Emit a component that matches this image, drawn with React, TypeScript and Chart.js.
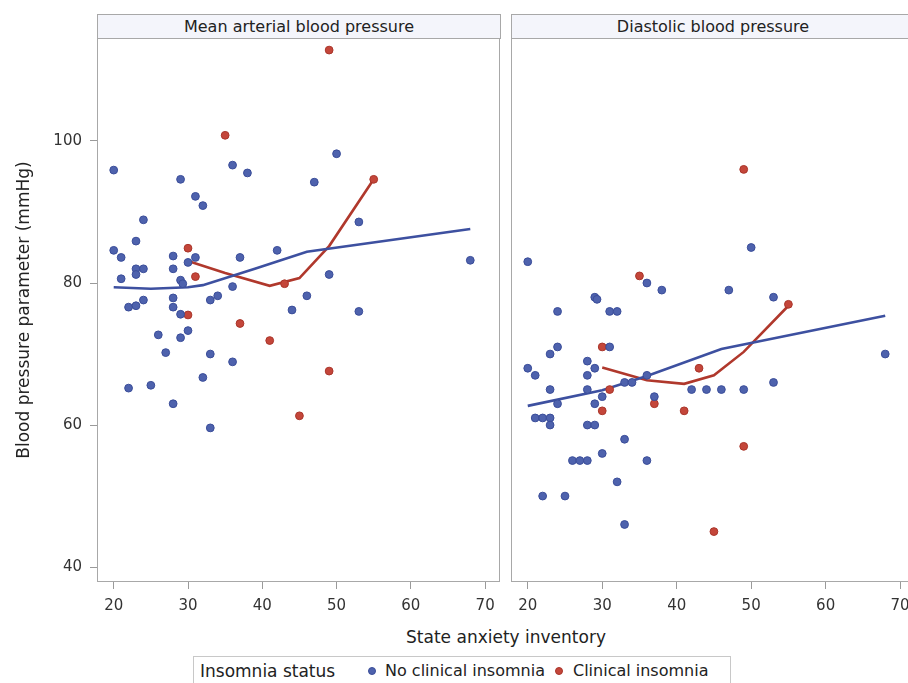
import React, { useEffect, useRef } from "react";
import { Chart, registerables } from "chart.js";

Chart.register(...registerables);

// ---- axis ticks / ranges ----
const xTicks = [20, 30, 40, 50, 60, 70];
const yTicks = [40, 60, 80, 100];
const X_MIN = 17.75;
const X_MAX = 72.0;
const Y_MIN = 37.9;
const Y_MAX = 114.5;

const panelTitles = ["Mean arterial blood pressure", "Diastolic blood pressure"];
const seriesNames = ["No clinical insomnia", "Clinical insomnia"];

// ---- Mean arterial blood pressure: no clinical insomnia ----
const mapNoX = [20, 29, 36, 38, 47, 50, 31, 32, 24, 53, 23, 20, 21, 28, 31, 30, 37, 42, 68, 23, 24, 23, 28, 21, 29, 29.3, 36, 49, 46, 34, 33, 24, 22, 23, 28, 28, 44, 53, 29, 26, 30, 29, 27, 33, 36, 32, 22, 25, 28, 33];
const mapNoY = [95.9, 94.6, 96.6, 95.5, 94.2, 98.2, 92.2, 90.9, 88.9, 88.6, 85.9, 84.6, 83.6, 83.8, 83.6, 82.9, 83.6, 84.6, 83.2, 82.0, 82.0, 81.2, 82.0, 80.6, 80.4, 79.9, 79.5, 81.2, 78.2, 78.2, 77.6, 77.6, 76.6, 76.8, 77.9, 76.6, 76.2, 76.0, 75.6, 72.7, 73.3, 72.3, 70.2, 70.0, 68.9, 66.7, 65.2, 65.6, 63.0, 59.6];

// ---- Mean arterial blood pressure: clinical insomnia ----
const mapInsX = [49, 35, 55, 30, 31, 43, 30, 37, 41, 49, 45];
const mapInsY = [112.8, 100.8, 94.6, 84.9, 80.9, 79.9, 75.5, 74.3, 71.9, 67.6, 61.3];

// ---- Diastolic blood pressure: no clinical insomnia ----
const dbpNoX = [50, 20, 36, 38, 47, 29, 29.3, 53, 24, 31, 32, 68, 31, 24, 23, 28, 20, 29, 21, 28, 36, 33, 34, 53, 23, 28, 42, 44, 46, 49, 30, 37, 24, 29, 21, 22, 23, 23, 28, 29, 33, 30, 26, 27, 28, 36, 32, 22, 25, 33];
const dbpNoY = [85, 83, 80, 79, 79, 78, 77.7, 78, 76, 76, 76, 70, 71, 71, 70, 69, 68, 68, 67, 67, 67, 66, 66, 66, 65, 65, 65, 65, 65, 65, 64, 64, 63, 63, 61, 61, 61, 60, 60, 60, 58, 56, 55, 55, 55, 55, 52, 50, 50, 46];

// ---- Diastolic blood pressure: clinical insomnia ----
const dbpInsX = [49, 35, 30, 43, 31, 37, 30, 41, 49, 45, 55];
const dbpInsY = [96, 81, 71, 68, 65, 63, 62, 62, 57, 45, 77];

// ---- smoothed fit lines ----
const mapNoLineX = [20, 25, 30, 32, 39, 46, 68];
const mapNoLineY = [79.4, 79.2, 79.4, 79.7, 82.0, 84.4, 87.6];
const mapInsLineX = [30, 35, 41, 45, 49, 55];
const mapInsLineY = [83.1, 81.4, 79.6, 80.7, 85.2, 94.6];
const dbpNoLineX = [20, 30, 36, 46, 68];
const dbpNoLineY = [62.7, 64.9, 66.9, 70.7, 75.4];
const dbpInsLineX = [30, 36, 41, 45, 49, 55];
const dbpInsLineY = [68.1, 66.3, 65.8, 67.0, 70.3, 76.8];

const BLUE_FILL = "#4e62ad";
const BLUE_EDGE = "#3a4d99";
const BLUE_LINE = "#3d50a0";
const RED_FILL = "#c4463a";
const RED_EDGE = "#a9352a";
const RED_LINE = "#b0382c";
const FRAME = "#a8a8a8";
const FONT = "'DejaVu Sans', sans-serif";

function pts(xs: number[], ys: number[]) {
  return xs.map((x, i) => ({ x, y: ys[i] }));
}

const framePlugin = {
  id: "frame",
  beforeDatasetsDraw(chart: any) {
    const a = chart.chartArea;
    const ctx = chart.ctx;
    ctx.save();
    ctx.strokeStyle = FRAME;
    ctx.lineWidth = 1;
    ctx.strokeRect(Math.round(a.left) + 0.5, Math.round(a.top) + 0.5, Math.round(a.right - a.left) - 1, Math.round(a.bottom - a.top) - 1);
    ctx.restore();
  },
};

function makeChart(
  canvas: HTMLCanvasElement,
  showY: boolean,
  padding: { left: number; right: number; top: number; bottom: number },
  noX: number[], noY: number[], insX: number[], insY: number[],
  noLX: number[], noLY: number[], insLX: number[], insLY: number[]
) {
  const tickFont = { family: FONT, size: 15 };
  return new Chart(canvas, {
    type: "scatter",
    data: {
      datasets: [
        {
          label: seriesNames[0],
          data: pts(noX, noY),
          backgroundColor: BLUE_FILL,
          borderColor: BLUE_EDGE,
          pointRadius: 3.9,
          borderWidth: 1,
        },
        {
          label: seriesNames[1],
          data: pts(insX, insY),
          backgroundColor: RED_FILL,
          borderColor: RED_EDGE,
          pointRadius: 3.9,
          borderWidth: 1,
        },
        {
          label: seriesNames[0] + " fit",
          data: pts(noLX, noLY),
          showLine: true,
          borderColor: BLUE_LINE,
          borderWidth: 2.6,
          pointRadius: 0,
          tension: 0,
        },
        {
          label: seriesNames[1] + " fit",
          data: pts(insLX, insLY),
          showLine: true,
          borderColor: RED_LINE,
          borderWidth: 2.6,
          pointRadius: 0,
          tension: 0,
        },
      ],
    },
    options: {
      animation: false,
      responsive: false,
      events: [],
      layout: { padding },
      plugins: {
        legend: { display: false },
        tooltip: { enabled: false },
        title: { display: false },
      },
      scales: {
        x: {
          type: "linear",
          min: X_MIN,
          max: X_MAX,
          afterBuildTicks: (s: any) => {
            s.ticks = xTicks.map((v) => ({ value: v }));
          },
          afterFit: (s: any) => {
            s.height = 43;
          },
          grid: {
            display: true,
            drawOnChartArea: false,
            drawTicks: true,
            tickLength: 7,
            color: "#9a9a9a",
            tickColor: "#9a9a9a",
          },
          border: { display: false },
          ticks: { font: tickFont, color: "#333", padding: 8, maxRotation: 0, autoSkip: false },
          title: { display: false },
        },
        y: {
          type: "linear",
          display: showY,
          min: Y_MIN,
          max: Y_MAX,
          afterBuildTicks: (s: any) => {
            s.ticks = yTicks.map((v) => ({ value: v }));
          },
          afterFit: (s: any) => {
            if (showY) s.width = 97;
          },
          grid: {
            display: true,
            drawOnChartArea: false,
            drawTicks: true,
            tickLength: 7,
            color: "#9a9a9a",
            tickColor: "#9a9a9a",
          },
          border: { display: false },
          ticks: { font: tickFont, color: "#333", padding: 8, autoSkip: false },
          title: { display: false },
        },
      },
    },
    plugins: [framePlugin],
  } as any);
}

const headerStyle = (left: number): React.CSSProperties => ({
  position: "absolute",
  left,
  top: 14,
  width: 404,
  height: 25,
  boxSizing: "border-box",
  border: `1px solid ${FRAME}`,
  background: "#f4f5fb",
  fontFamily: FONT,
  fontSize: 16,
  lineHeight: "23px",
  textAlign: "center",
  color: "#222",
  whiteSpace: "nowrap",
});

export default function App() {
  const leftRef = useRef<HTMLCanvasElement>(null);
  const rightRef = useRef<HTMLCanvasElement>(null);

  useEffect(() => {
    const c1 = makeChart(
      leftRef.current!, true, { left: 0, right: 4, top: 38, bottom: 0 },
      mapNoX, mapNoY, mapInsX, mapInsY, mapNoLineX, mapNoLineY, mapInsLineX, mapInsLineY
    );
    const c2 = makeChart(
      rightRef.current!, false, { left: 6, right: 10, top: 38, bottom: 0 },
      dbpNoX, dbpNoY, dbpInsX, dbpInsY, dbpNoLineX, dbpNoLineY, dbpInsLineX, dbpInsLineY
    );
    return () => {
      c1.destroy();
      c2.destroy();
    };
  }, []);

  const dot = (color: string, edge: string, left: number): React.CSSProperties => ({
    position: "absolute",
    left: left - 4,
    top: 667,
    width: 6,
    height: 6,
    borderRadius: "50%",
    background: color,
    border: `1px solid ${edge}`,
  });

  const legText = (left: number, size: number): React.CSSProperties => ({
    position: "absolute",
    left,
    top: 660,
    fontFamily: FONT,
    fontSize: size,
    lineHeight: "22px",
    color: "#222",
    whiteSpace: "nowrap",
  });

  return (
    <div
      style={{
        position: "absolute",
        left: 0,
        top: 0,
        width: 908,
        height: 683,
        overflow: "hidden",
        background: "#fff",
      }}
    >
      <canvas ref={leftRef} width={505} height={625} style={{ position: "absolute", left: 0, top: 0, width: 505, height: 625 }} />
      <canvas ref={rightRef} width={420} height={625} style={{ position: "absolute", left: 505, top: 0, width: 420, height: 625 }} />
      <div style={headerStyle(97)}>{panelTitles[0]}</div>
      <div style={headerStyle(511)}>{panelTitles[1]}</div>
      <div
        style={{
          position: "absolute",
          left: 23 - 200,
          top: 310 - 11,
          width: 400,
          height: 22,
          lineHeight: "22px",
          textAlign: "center",
          transform: "rotate(-90deg)",
          fontFamily: FONT,
          fontSize: 17,
          color: "#222",
          whiteSpace: "nowrap",
        }}
      >
        Blood pressure parameter (mmHg)
      </div>
      <div
        style={{
          position: "absolute",
          left: 306,
          top: 626,
          width: 400,
          lineHeight: "22px",
          textAlign: "center",
          fontFamily: FONT,
          fontSize: 17,
          color: "#222",
        }}
      >
        State anxiety inventory
      </div>
      <div
        style={{
          position: "absolute",
          left: 193,
          top: 656,
          width: 538,
          height: 40,
          boxSizing: "border-box",
          border: "1px solid #c8c8c8",
        }}
      />
      <div style={legText(200, 17)}>Insomnia status</div>
      <div style={dot(BLUE_FILL, BLUE_EDGE, 372)} />
      <div style={legText(385, 16)}>{seriesNames[0]}</div>
      <div style={dot(RED_FILL, RED_EDGE, 559)} />
      <div style={legText(573, 16)}>{seriesNames[1]}</div>
    </div>
  );
}
